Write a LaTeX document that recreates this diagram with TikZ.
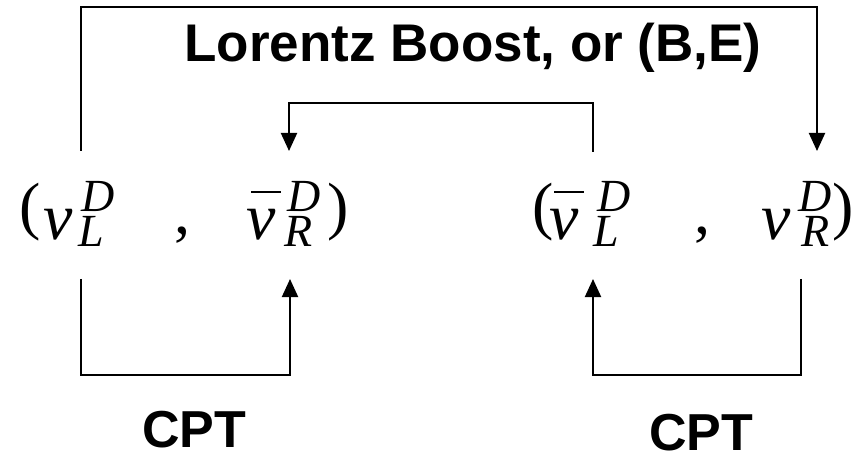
\documentclass[tikz,border=0pt]{standalone}
\usepackage{fontspec}
\setmainfont{Liberation Serif}
\setsansfont{Liberation Sans}
\usetikzlibrary{arrows.meta}
\newcommand{\scrfont}{\fontsize{46}{46}\selectfont\itshape}
% #1 bar offset (empty = no bar), #2 superscript x, #3 subscript x, #4 superscript, #5 subscript
\newcommand{\nuwith}[5]{%
  \makebox[0pt][l]{ν}%
  \makebox[0pt][l]{#1}%
  \makebox[0pt][l]{\hspace{#2}\raisebox{28pt}{\scrfont #4}}%
  \hspace{#3}\raisebox{-7pt}{\scrfont #5}}
\newcommand{\nubar}[1]{\hspace{#1}\rule[47pt]{30pt}{2pt}}
\tikzset{
  conn/.style={line width=2pt, line join=miter},
  arr/.style={conn, -{Triangle[width=16pt,length=18pt]}},
  glyph/.style={inner sep=0pt, outer sep=0pt, anchor=base west},
  nu/.style={glyph, font=\fontsize{66}{66}\selectfont\itshape},
  par/.style={glyph, font=\fontsize{64}{64}\selectfont},
  label/.style={inner sep=0pt, outer sep=0pt, anchor=base, font=\fontsize{53}{60}\selectfont\sffamily\bfseries},
  cpt/.style={inner sep=0pt, outer sep=0pt, anchor=base, font=\fontsize{52}{60}\selectfont\sffamily\bfseries}
}
\begin{document}
\begin{tikzpicture}[x=1pt,y=1pt]
\useasboundingbox (0,0) rectangle (867,-454);
% title
\node[label] (title) at (473,-62) {Lorentz Boost, or (B,E)};
% left pair
\node[par] (lpa) at (19,-228) {(};
\node[nu] (nuL) at (43,-240) {\nuwith{}{38pt}{35pt}{D}{L}};
\node[par] (lcomma) at (174,-234) {,};
\node[nu] (nubR) at (246,-240) {\nuwith{\nubar{5pt}}{41pt}{38pt}{D}{R}};
\node[par] (lpb) at (327,-228) {)};
% right pair
\node[par] (rpa) at (532,-228) {(};
\node[nu] (nubL) at (549,-240) {\nuwith{\nubar{5pt}}{48pt}{44pt}{D}{L}};
\node[par] (rcomma) at (694,-234) {,};
\node[nu] (nuR) at (761,-240) {\nuwith{}{37pt}{40pt}{D}{R}};
\node[par] (rpb) at (832,-228) {)};
% CPT labels
\node[cpt] (cptL) at (194,-447) {CPT};
\node[cpt] (cptR) at (701,-450) {CPT};
% connector end points
\coordinate (oS) at (81,-151);
\coordinate (oA) at (81,-7);
\coordinate (oB) at (817,-7);
\coordinate (oE) at (817,-151);
\coordinate (iS) at (593,-152);
\coordinate (iA) at (593,-103);
\coordinate (iB) at (289,-103);
\coordinate (iE) at (289,-151);
\coordinate (blS) at (81,-279);
\coordinate (blA) at (81,-375);
\coordinate (blB) at (290,-375);
\coordinate (blE) at (290,-279);
\coordinate (brS) at (801,-279);
\coordinate (brA) at (801,-375);
\coordinate (brB) at (593,-375);
\coordinate (brE) at (593,-279);
\draw[arr] (oS) -- (oA) -- (oB) -- (oE);
\draw[arr] (iS) -- (iA) -- (iB) -- (iE);
\draw[arr] (blS) -- (blA) -- (blB) -- (blE);
\draw[arr] (brS) -- (brA) -- (brB) -- (brE);
\end{tikzpicture}
\end{document}
